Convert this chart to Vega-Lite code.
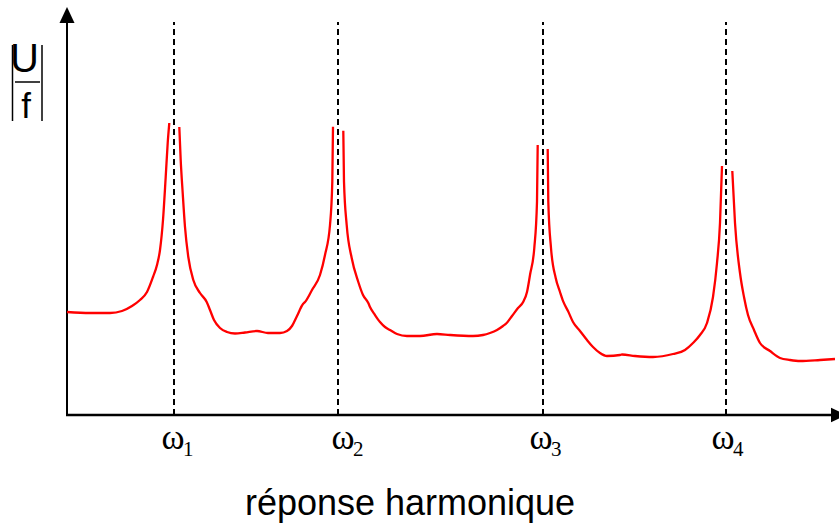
{
  "$schema": "https://vega.github.io/schema/vega-lite/v6.json",
  "width": 839,
  "height": 526,
  "padding": 0,
  "autosize": {"type": "none"},
  "background": "white",
  "config": {"view": {"stroke": null}},
  "datasets": {
    "curve": [
      {"seg": 0, "w": 0, "a": 103}, {"seg": 0, "w": 23, "a": 102}, {"seg": 0, "w": 43, "a": 102}, {"seg": 0, "w": 55, "a": 104}, {"seg": 0, "w": 65, "a": 109}, {"seg": 0, "w": 73, "a": 115}, {"seg": 0, "w": 80, "a": 123}, {"seg": 0, "w": 86, "a": 138}, {"seg": 0, "w": 90, "a": 150}, {"seg": 0, "w": 93, "a": 165}, {"seg": 0, "w": 96, "a": 195}, {"seg": 0, "w": 98.7, "a": 238}, {"seg": 0, "w": 100.7, "a": 272}, {"seg": 0, "w": 102.3, "a": 292},
      {"seg": 1, "w": 112.3, "a": 288}, {"seg": 1, "w": 113.7, "a": 255}, {"seg": 1, "w": 115.7, "a": 222}, {"seg": 1, "w": 118, "a": 188}, {"seg": 1, "w": 121.3, "a": 158}, {"seg": 1, "w": 126.3, "a": 135}, {"seg": 1, "w": 133, "a": 122}, {"seg": 1, "w": 139.7, "a": 113}, {"seg": 1, "w": 143, "a": 105}, {"seg": 1, "w": 147, "a": 95}, {"seg": 1, "w": 153, "a": 87}, {"seg": 1, "w": 160, "a": 83}, {"seg": 1, "w": 168, "a": 81.5}, {"seg": 1, "w": 178, "a": 82.5}, {"seg": 1, "w": 190, "a": 84}, {"seg": 1, "w": 201, "a": 82}, {"seg": 1, "w": 213, "a": 82}, {"seg": 1, "w": 220, "a": 84}, {"seg": 1, "w": 225, "a": 89}, {"seg": 1, "w": 230, "a": 99}, {"seg": 1, "w": 236, "a": 111}, {"seg": 1, "w": 238, "a": 113}, {"seg": 1, "w": 245, "a": 125}, {"seg": 1, "w": 253, "a": 140}, {"seg": 1, "w": 258, "a": 160}, {"seg": 1, "w": 263, "a": 190}, {"seg": 1, "w": 265.3, "a": 233.3}, {"seg": 1, "w": 266, "a": 288.3},
      {"seg": 2, "w": 276.3, "a": 284.3}, {"seg": 2, "w": 277, "a": 233.3}, {"seg": 2, "w": 279.7, "a": 190}, {"seg": 2, "w": 284.7, "a": 157}, {"seg": 2, "w": 291.3, "a": 133}, {"seg": 2, "w": 296, "a": 120}, {"seg": 2, "w": 301.3, "a": 112}, {"seg": 2, "w": 303, "a": 108}, {"seg": 2, "w": 308, "a": 100}, {"seg": 2, "w": 313, "a": 93}, {"seg": 2, "w": 318, "a": 88}, {"seg": 2, "w": 323, "a": 85}, {"seg": 2, "w": 330, "a": 81}, {"seg": 2, "w": 340, "a": 79}, {"seg": 2, "w": 353, "a": 79}, {"seg": 2, "w": 370, "a": 81}, {"seg": 2, "w": 383, "a": 80}, {"seg": 2, "w": 406, "a": 79}, {"seg": 2, "w": 416, "a": 80}, {"seg": 2, "w": 423, "a": 82}, {"seg": 2, "w": 430, "a": 85}, {"seg": 2, "w": 436, "a": 89}, {"seg": 2, "w": 439.7, "a": 92}, {"seg": 2, "w": 445, "a": 99}, {"seg": 2, "w": 451, "a": 107}, {"seg": 2, "w": 456.3, "a": 113.3}, {"seg": 2, "w": 460, "a": 123}, {"seg": 2, "w": 463, "a": 140}, {"seg": 2, "w": 467.3, "a": 167}, {"seg": 2, "w": 470, "a": 213.3}, {"seg": 2, "w": 470.7, "a": 270},
      {"seg": 3, "w": 480.7, "a": 266}, {"seg": 3, "w": 481.3, "a": 213.3}, {"seg": 3, "w": 484, "a": 167}, {"seg": 3, "w": 488.7, "a": 137}, {"seg": 3, "w": 493, "a": 123}, {"seg": 3, "w": 496.3, "a": 113.3}, {"seg": 3, "w": 501, "a": 104}, {"seg": 3, "w": 506, "a": 93}, {"seg": 3, "w": 513, "a": 84}, {"seg": 3, "w": 520, "a": 75}, {"seg": 3, "w": 526, "a": 68}, {"seg": 3, "w": 533, "a": 62}, {"seg": 3, "w": 540, "a": 59}, {"seg": 3, "w": 553, "a": 60}, {"seg": 3, "w": 555, "a": 60.5}, {"seg": 3, "w": 568, "a": 59}, {"seg": 3, "w": 586, "a": 58}, {"seg": 3, "w": 606, "a": 61}, {"seg": 3, "w": 618, "a": 65}, {"seg": 3, "w": 626, "a": 72}, {"seg": 3, "w": 633, "a": 80}, {"seg": 3, "w": 640, "a": 92}, {"seg": 3, "w": 646, "a": 118}, {"seg": 3, "w": 650, "a": 152}, {"seg": 3, "w": 653, "a": 192}, {"seg": 3, "w": 655, "a": 249},
      {"seg": 4, "w": 665.3, "a": 244}, {"seg": 4, "w": 668, "a": 192}, {"seg": 4, "w": 673, "a": 142}, {"seg": 4, "w": 677, "a": 118}, {"seg": 4, "w": 681, "a": 100}, {"seg": 4, "w": 687, "a": 85}, {"seg": 4, "w": 693, "a": 72}, {"seg": 4, "w": 703, "a": 64}, {"seg": 4, "w": 713, "a": 57}, {"seg": 4, "w": 723, "a": 55}, {"seg": 4, "w": 733, "a": 54}, {"seg": 4, "w": 753, "a": 55}, {"seg": 4, "w": 768, "a": 56}
    ],
    "modes": [
      {"n": "1", "w": 107, "lw": 106},
      {"n": "2", "w": 271, "lw": 276},
      {"n": "3", "w": 476, "lw": 474},
      {"n": "4", "w": 659, "lw": 656}
    ]
  },
  "layer": [
    {
      "data": {"name": "modes"},
      "mark": {"type": "rule", "color": "black", "strokeWidth": 2, "strokeDash": [6, 4]},
      "encoding": {
        "x": {"field": "w", "type": "quantitative", "scale": {"domain": [-67, 772], "nice": false, "zero": false}, "axis": null},
        "y": {"datum": 0, "type": "quantitative", "scale": {"domain": [-111, 415], "nice": false, "zero": false}, "axis": null},
        "y2": {"datum": 393}
      }
    },
    {
      "data": {"values": [{}]},
      "mark": {"type": "rule", "color": "black", "strokeWidth": 2.5},
      "encoding": {
        "x": {"datum": -1, "type": "quantitative"},
        "x2": {"datum": 766},
        "y": {"datum": 0, "type": "quantitative"}
      }
    },
    {
      "data": {"values": [{}]},
      "mark": {"type": "rule", "color": "black", "strokeWidth": 2},
      "encoding": {
        "x": {"datum": 0, "type": "quantitative"},
        "y": {"datum": -1, "type": "quantitative"},
        "y2": {"datum": 396}
      }
    },
    {
      "data": {"values": [{}]},
      "mark": {"type": "point", "filled": true, "color": "black", "opacity": 1, "size": 256, "shape": "M-0.94,1L0,-1L0.94,1Z"},
      "encoding": {
        "x": {"datum": 0, "type": "quantitative"},
        "y": {"datum": 400, "type": "quantitative"}
      }
    },
    {
      "data": {"values": [{}]},
      "mark": {"type": "point", "filled": true, "color": "black", "opacity": 1, "size": 256, "shape": "M-1,-0.9L1,0L-1,0.9Z"},
      "encoding": {
        "x": {"datum": 772, "type": "quantitative"},
        "y": {"datum": 0, "type": "quantitative"}
      }
    },
    {
      "data": {"name": "curve"},
      "mark": {"type": "line", "color": "#ff0000", "strokeWidth": 2.3, "interpolate": "monotone"},
      "encoding": {
        "x": {"field": "w", "type": "quantitative"},
        "y": {"field": "a", "type": "quantitative"},
        "detail": {"field": "seg"}
      }
    },
    {
      "data": {"name": "modes"},
      "mark": {"type": "text", "text": "ω", "font": "Liberation Serif", "fontSize": 35, "align": "center", "baseline": "alphabetic", "color": "black"},
      "encoding": {
        "x": {"field": "lw", "type": "quantitative"},
        "y": {"datum": -34, "type": "quantitative"}
      }
    },
    {
      "data": {"name": "modes"},
      "mark": {"type": "text", "font": "Liberation Serif", "fontSize": 21, "align": "left", "baseline": "alphabetic", "dx": 10, "color": "black"},
      "encoding": {
        "x": {"field": "lw", "type": "quantitative"},
        "y": {"datum": -41, "type": "quantitative"},
        "text": {"field": "n"}
      }
    },
    {
      "data": {"values": [{"t": "U", "w": -42.5, "a": 343, "s": 31}, {"t": "f", "w": -41, "a": 297, "s": 26}]},
      "mark": {"type": "text", "font": "Liberation Sans", "align": "center", "baseline": "alphabetic", "color": "black"},
      "encoding": {
        "x": {"field": "w", "type": "quantitative"},
        "y": {"field": "a", "type": "quantitative"},
        "text": {"field": "t"},
        "size": {"field": "s", "type": "quantitative", "scale": {"type": "identity"}, "legend": null}
      }
    },
    {
      "data": {"values": [{}]},
      "mark": {"type": "rule", "color": "black", "strokeWidth": 1.5},
      "encoding": {
        "x": {"datum": -52, "type": "quantitative"},
        "x2": {"datum": -27},
        "y": {"datum": 333, "type": "quantitative"}
      }
    },
    {
      "data": {"values": [{"w": -54.5}, {"w": -25}]},
      "mark": {"type": "rule", "color": "black", "strokeWidth": 1.5},
      "encoding": {
        "x": {"field": "w", "type": "quantitative"},
        "y": {"datum": 294, "type": "quantitative"},
        "y2": {"datum": 370}
      }
    },
    {
      "data": {"values": [{}]},
      "mark": {"type": "text", "text": "réponse harmonique", "font": "Liberation Sans", "fontSize": 36, "align": "center", "baseline": "alphabetic", "color": "black"},
      "encoding": {
        "x": {"datum": 343, "type": "quantitative"},
        "y": {"datum": -100, "type": "quantitative"}
      }
    }
  ]
}
